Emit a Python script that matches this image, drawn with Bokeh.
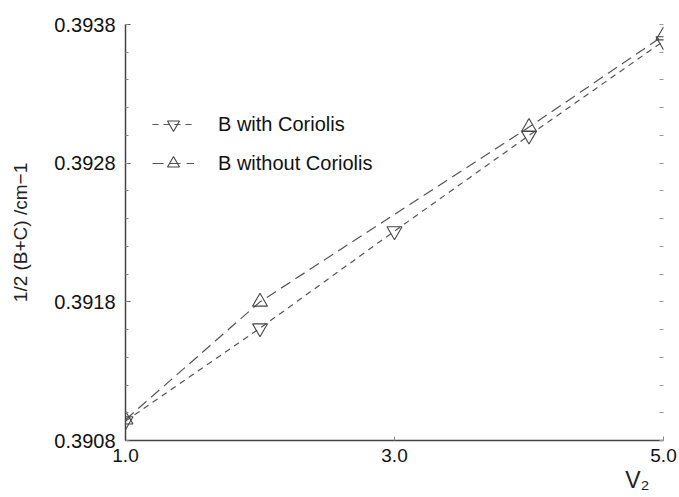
from bokeh.plotting import figure
from bokeh.models import (Range1d, FixedTicker, LinearAxis, Legend, LegendItem, Title)
from bokeh.embed import file_html
from bokeh.resources import INLINE

# ---- data ----
x_with = [1.0, 2.0, 3.0, 4.0, 5.0]
y_with = [0.39094, 0.39161, 0.39231, 0.39300, 0.39368]
x_without = [1.0, 2.0, 4.0, 5.0]
y_without = [0.39095, 0.39180, 0.39306, 0.39372]

x_ticks = [1.0, 3.0, 5.0]
x_tick_labels = ["1.0", "3.0", "5.0"]
y_ticks = [0.3908, 0.3918, 0.3928, 0.3938]
y_tick_labels = ["0.3908", "0.3918", "0.3928", "0.3938"]
y_minor = [0.3908 + 0.0002 * i for i in range(16)]

FONT = "Liberation Sans"
LINE = "#555555"
MARK = "#444444"

p = figure(width=679, height=497, output_backend="svg", toolbar_location=None,
           x_range=Range1d(1.0, 5.0), y_range=Range1d(0.3908, 0.3938),
           min_border_left=125, min_border_right=16, min_border_top=24,
           min_border_bottom=57)
p.outline_line_color = None
p.grid.visible = False
p.background_fill_color = "white"
p.border_fill_color = "white"

# lines + markers
l1 = p.line(x_with, y_with, line_color=LINE, line_dash="6 5", line_width=1.2)
m1 = p.scatter(x_with, y_with, marker="inverted_triangle", size=15,
               fill_color=None, line_color=MARK, line_width=1.1)
l2 = p.line(x_without, y_without, line_color=LINE, line_dash="11 6", line_width=1.2)
m2 = p.scatter(x_without, y_without, marker="triangle", size=15,
               fill_color=None, line_color=MARK, line_width=1.1)

# x axis
xa = p.xaxis[0]
xa.ticker = FixedTicker(ticks=x_ticks, minor_ticks=[])
xa.major_label_overrides = {t: s for t, s in zip(x_ticks, x_tick_labels)}
xa.major_tick_in = 4
xa.major_tick_out = 0
xa.minor_tick_line_color = None
xa.axis_line_color = "#444444"
xa.axis_line_width = 1.5
xa.major_tick_line_color = "#888888"
xa.major_label_text_font = FONT
xa.major_label_text_font_size = "19px"
xa.major_label_text_color = "#111111"
xa.major_label_standoff = 8

# y axis
ya = p.yaxis[0]
ya.ticker = FixedTicker(ticks=y_ticks, minor_ticks=y_minor)
ya.major_label_overrides = {t: s for t, s in zip(y_ticks, y_tick_labels)}
ya.major_tick_in = 5
ya.major_tick_out = 0
ya.minor_tick_in = 3
ya.minor_tick_out = 0
ya.axis_line_color = "#444444"
ya.axis_line_width = 1.5
ya.major_tick_line_color = "#555555"
ya.minor_tick_line_color = "#888888"
ya.major_label_text_font = FONT
ya.major_label_text_font_size = "20px"
ya.major_label_text_color = "#111111"
ya.major_label_standoff = 10
ya.axis_label = "1/2 (B+C) /cm\u22121"
ya.axis_label_text_font = FONT
ya.axis_label_text_font_size = "19px"
ya.axis_label_text_font_style = "normal"
ya.axis_label_text_color = "#222222"
ya.axis_label_standoff = 20

# right axis: only faint tick marks
ra = LinearAxis(ticker=FixedTicker(ticks=[], minor_ticks=y_minor))
ra.axis_line_color = None
ra.minor_tick_in = 4
ra.minor_tick_out = 0
ra.minor_tick_line_color = "#999999"
ra.major_tick_line_color = None
p.add_layout(ra, "right")

# legend
legend = Legend(items=[LegendItem(label="B with Coriolis", renderers=[l1, m1]),
                       LegendItem(label="B without Coriolis", renderers=[l2, m2])],
                location=(27, 262), orientation="vertical")
legend.glyph_width = 42
legend.glyph_height = 30
legend.label_height = 30
legend.spacing = 9
legend.label_standoff = 24
legend.padding = 0
legend.margin = 0
legend.border_line_color = None
legend.background_fill_alpha = 0
legend.label_text_font = FONT
legend.label_text_font_size = "20px"
legend.label_text_color = "#111111"
p.add_layout(legend)

# x axis label V2 at lower right
xt = Title(text="V\u2082", align="right", text_font=FONT, text_font_size="23px",
           text_font_style="normal", text_color="#222222", standoff=0, offset=14)
p.add_layout(xt, "below")

open("out.html", "w").write(file_html(p, INLINE))
